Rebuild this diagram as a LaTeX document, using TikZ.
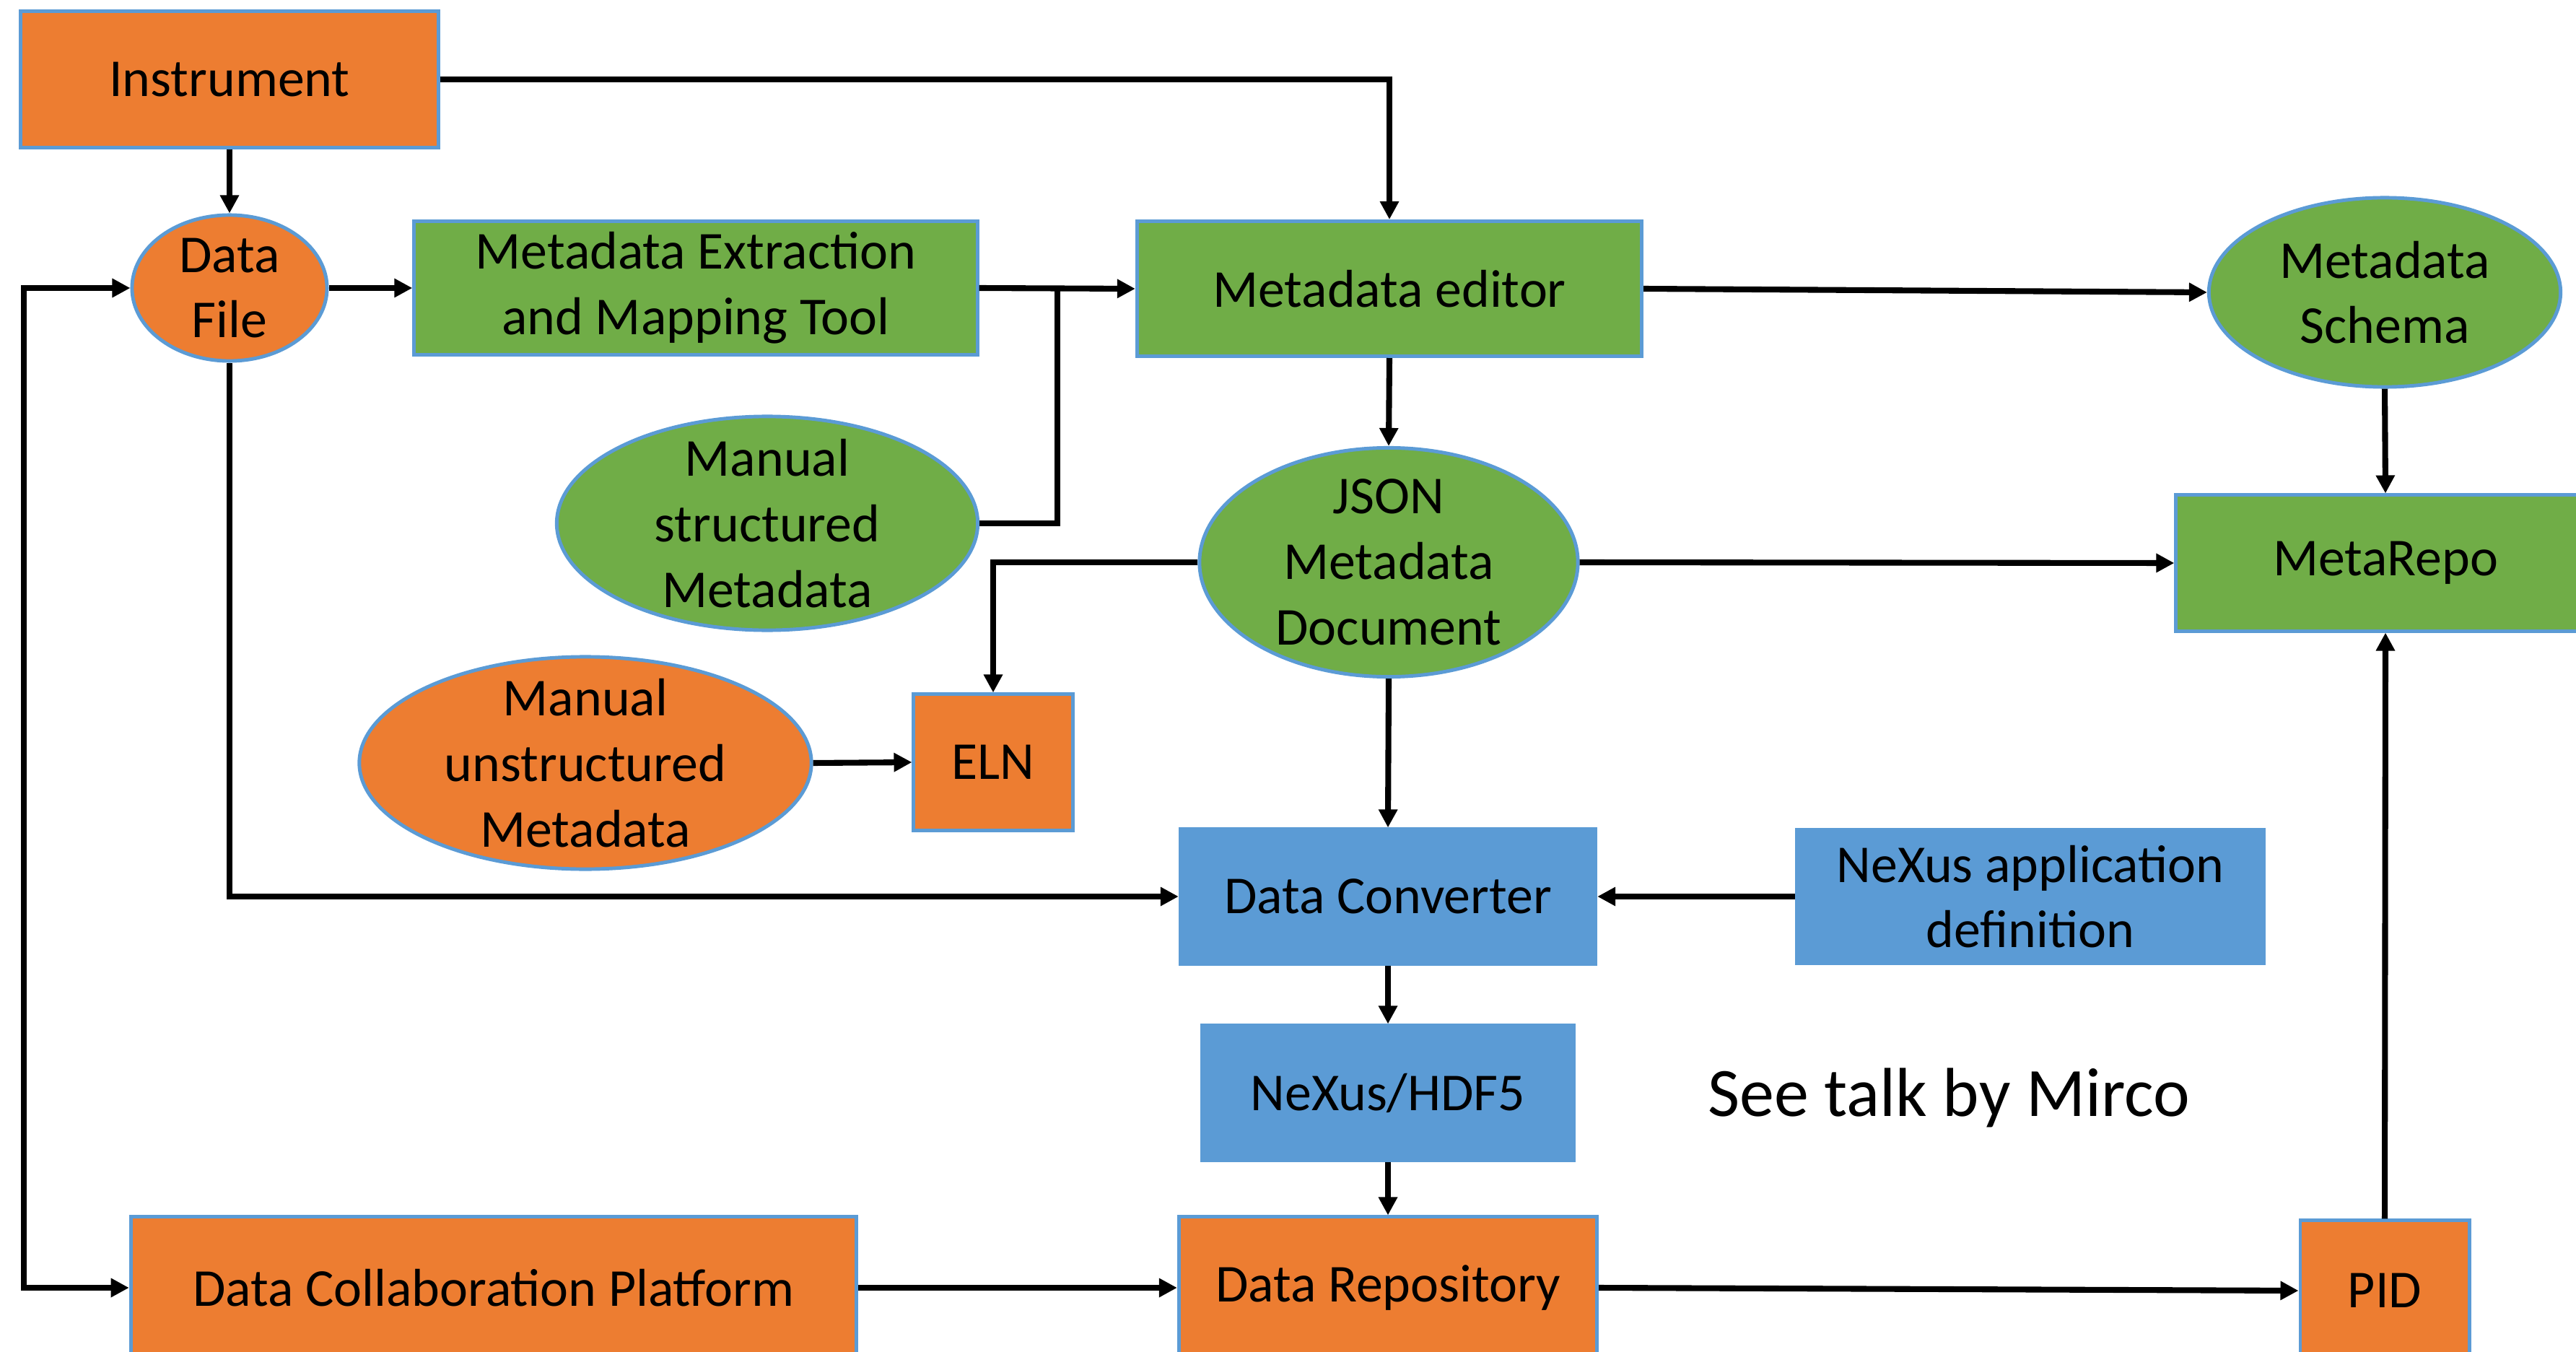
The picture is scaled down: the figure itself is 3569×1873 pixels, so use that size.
\documentclass[tikz,border=0pt]{standalone}
\usepackage{fontspec}
\setmainfont{Carlito}
\usetikzlibrary{shapes.geometric,arrows.meta,calc}
\definecolor{orng}{HTML}{ED7D31}
\definecolor{grn}{HTML}{70AD47}
\definecolor{blu}{HTML}{5B9BD5}
\begin{document}
\begin{tikzpicture}[x=0.01cm,y=-0.01cm,
 every node/.style={font=\fontsize{21}{25.8}\selectfont, align=center, inner sep=0pt},
 box/.style={rectangle, draw=blu, line width=1.4pt},
 oval/.style={ellipse, draw=blu, line width=1.4pt, inner sep=-0.5cm},
 flat/.style={rectangle, fill=blu, draw=blu, line width=0.3pt},
 con/.style={line width=2.3pt, -{Triangle[length=0.25cm,width=0.25cm]}},
 plain/.style={line width=2.3pt}]
\useasboundingbox (0,0) rectangle (3569,1873);
\fill[white] (0,0) rectangle (3569,1873);

\node[box, fill=orng, minimum width=5.78cm, minimum height=1.88cm] (inst) at (318,110) {Instrument};
\node[oval, fill=orng, minimum width=2.70cm, minimum height=2.02cm] (df) at (318,399) {Data\\File};
\node[box, fill=grn, minimum width=7.80cm, minimum height=1.85cm] (memt) at (964,399) {Metadata Extraction\\and Mapping Tool};
\node[box, fill=grn, minimum width=6.99cm, minimum height=1.87cm] (med) at (1925,400) {Metadata editor};
\node[oval, fill=grn, minimum width=4.87cm, minimum height=2.62cm] (msch) at (3304,405) {Metadata\\Schema};
\node[oval, fill=grn, minimum width=5.24cm, minimum height=3.17cm] (json) at (1924,779) {JSON\\Metadata\\Document};
\node[box, fill=grn, minimum width=5.80cm, minimum height=1.88cm] (mrepo) at (3305,780) {MetaRepo};
\node[oval, fill=grn, minimum width=5.83cm, minimum height=2.96cm] (msm) at (1063,725) {Manual\\structured\\Metadata};
\node[oval, fill=orng, minimum width=6.26cm, minimum height=2.94cm] (mum) at (811,1057) {Manual\\unstructured\\Metadata};
\node[box, fill=orng, minimum width=2.20cm, minimum height=1.88cm] (eln) at (1376,1056) {ELN};
\node[flat, minimum width=5.79cm, minimum height=1.90cm] (dconv) at (1923,1242) {Data Converter};
\node[flat, minimum width=6.51cm, minimum height=1.89cm] (nad) at (2813,1242) {NeXus application\\definition};
\node[flat, minimum width=5.19cm, minimum height=1.90cm] (nexus) at (1923,1514) {NeXus/HDF5};
\node[box, fill=orng, minimum width=5.79cm, minimum height=1.96cm] (drepo) at (1923,1784) {Data Repository};
\node[box, fill=orng, minimum width=10.05cm, minimum height=1.96cm] (dcp) at (684,1784) {Data Collaboration Platform};
\node[box, fill=orng, minimum width=2.34cm, minimum height=1.94cm] (pid) at (3304,1788) {PID};
\node[font=\fontsize{27.3}{32}\selectfont, anchor=base] (mirco) at (2700,1546) {See talk by Mirco};

\coordinate (junc) at ($(memt.east)!0.5!(med.west)$);

\draw[con] (inst.south) -- (df.north);
\draw[con] (inst.east) -| (med.north);
\draw[con] (df.east) -- (memt.west);
\draw[con] (memt.east) -- (med.west);
\draw[plain] (msm.east) -| (junc);
\draw[con] (med.east) -- (msch.west);
\draw[con] (med.south) -- (json.north);
\draw[con] (json.east) -- (mrepo.west);
\draw[con] (json.west) -| (eln.north);
\draw[con] (mum.east) -- (eln.west);
\draw[con] (json.south) -- (dconv.north);
\draw[con] (df.south) |- (dconv.west);
\draw[con] (nad.west) -- (dconv.east);
\draw[con] (dconv.south) -- (nexus.north);
\draw[con] (nexus.south) -- (drepo.north);
\draw[con] (dcp.east) -- (drepo.west);
\draw[con] (drepo.east) -- (pid.west);
\draw[con] (msch.south) -- (mrepo.north);
\draw[con] (pid.north) -- (mrepo.south);
\draw[plain, {Triangle[length=0.25cm,width=0.25cm]}-{Triangle[length=0.25cm,width=0.25cm]}] (dcp.west) -- ++(-146,0) |- (df.west);
\end{tikzpicture}
\end{document}
